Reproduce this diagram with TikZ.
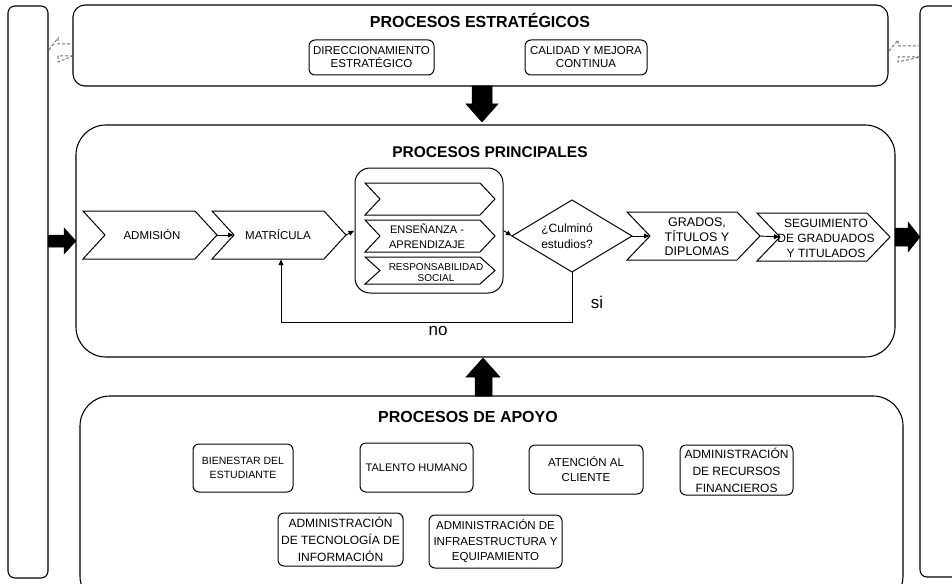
\documentclass[tikz,border=0pt]{standalone}
\usepackage{fontspec}
\setmainfont{Liberation Sans}
\usetikzlibrary{arrows.meta}
\newcommand\fsz[2]{\fontsize{#1}{#2}\selectfont}
\newcommand\chevron[6]{%
  \draw[chev] (#2,#4) -- ({#3-#6},#4) -- (#3,{(#4+#5)/2}) -- ({#3-#6},#5) -- (#2,#5) -- ({#2+#6},{(#4+#5)/2}) -- cycle;
  \coordinate (#1-tip) at (#3,{(#4+#5)/2});
  \coordinate (#1-notch) at ({#2+#6},{(#4+#5)/2});
}
\tikzset{
  bigbox/.style={draw, line width=1.1pt, inner sep=0pt},
  sbox/.style={draw, line width=1pt, rounded corners=6pt, align=center, inner sep=0pt},
  lbl/.style={align=center, inner sep=0pt},
  ttl/.style={font=\bfseries\fsz{16}{18}, inner sep=0pt},
  arr/.style={-{Latex[length=6pt,width=5.5pt]}, line width=0.9pt},
  blk/.style={fill=black, draw=black, line width=0.5pt, line join=miter},
  ghost/.style={draw=black!55, dash pattern=on 3pt off 2pt, line width=1pt},
  chev/.style={draw, line width=1pt, line join=miter},
}
\begin{document}
\begin{tikzpicture}[x=1pt,y=-1pt]
\useasboundingbox (0,0) rectangle (952,583);
\clip (0,0) rectangle (952,583);
\fill[white] (0,0) rectangle (952,583);

% side bars
\node[bigbox, rounded corners=7pt, minimum width=40pt, minimum height=572pt] (lbar) at (28,292) {};
\node[bigbox, rounded corners=7pt, minimum width=40pt, minimum height=571pt] (rbar) at (940,291.5) {};

% main boxes
\node[bigbox, rounded corners=12pt, minimum width=815pt, minimum height=81pt] (topb) at (480.5,45.5) {};
\node[bigbox, rounded corners=30pt, minimum width=819pt, minimum height=232pt] (midb) at (485.5,241) {};
\node[bigbox, rounded corners=30pt, minimum width=823pt, minimum height=210pt] (botb) at (491.5,501) {};

% ghost arrows
\draw[ghost] (49,50) -- (58,38) -- (58,44) -- (73,44) (73,56) -- (58,56) -- (58,62) -- cycle;
\draw[ghost] (889,51) -- (898,40) -- (898,46) -- (920,46) (920,57) -- (898,57) -- (898,62) -- cycle;

% titles
\node[ttl] (t1) at (480,20) {PROCESOS ESTRATÉGICOS};
\node[ttl, font=\bfseries\fsz{15.5}{17}] (t2) at (490,152) {PROCESOS PRINCIPALES};
\node[ttl] (t3) at (468,417) {PROCESOS DE APOYO};

% strategic boxes
\node[sbox, minimum width=125pt, minimum height=35pt, font=\fsz{11.5}{13}] (dir) at (371.5,57.5) {DIRECCIONAMIENTO\\ESTRATÉGICO};
\node[sbox, minimum width=122pt, minimum height=35pt, font=\fsz{11.5}{13}] (cal) at (586,57.5) {CALIDAD Y MEJORA\\CONTINUA};

% block arrows between boxes
\draw[blk] (472,86) -- (492,86) -- (492,104) -- (498,104) -- (482,122) -- (466,104) -- (472,104) -- cycle;
\draw[blk] (475,396) -- (492,396) -- (492,377) -- (500,377) -- (483,358) -- (466,377) -- (475,377) -- cycle;
\draw[blk] (48,235) -- (64,235) -- (64,228) -- (76,241) -- (64,254) -- (64,247) -- (48,247) -- cycle;
\draw[blk] (895,228) -- (908,228) -- (908,222) -- (920,237) -- (908,252) -- (908,246) -- (895,246) -- cycle;

% main chevrons
\chevron{adm}{83}{217}{211}{259}{22}
\node[lbl, font=\fsz{11.5}{14}] (admt) at (152,235) {ADMISIÓN};
\chevron{mat}{212}{346}{211}{259}{22}
\node[lbl, font=\fsz{11.5}{14}] (matt) at (278,235) {MATRÍCULA};
\coordinate (mat-bot) at (281,259);

% inner box with chevrons
\node[draw, line width=1pt, rounded corners=15pt, minimum width=148pt, minimum height=125pt, inner sep=0pt] (inb) at (429,230.5) {};
\chevron{c1}{365}{495}{183}{215}{15}
\chevron{c2}{365}{495}{220}{252}{15}
\node[lbl, font=\fsz{11}{14.5}] (c2t) at (427,236) {ENSEÑANZA -\\APRENDIZAJE};
\chevron{c3}{365}{495}{257}{284}{15}
\node[lbl, font=\fsz{10}{11.5}] (c3t) at (436,272.5) {RESPONSABILIDAD\\SOCIAL};

% decision
\coordinate (dia-w) at (512,236);
\coordinate (dia-n) at (572,200);
\coordinate (dia-e) at (632,236);
\coordinate (dia-s) at (572,272);
\draw[line width=1pt] (dia-w) -- (dia-n) -- (dia-e) -- (dia-s) -- cycle;
\node[lbl, font=\fsz{12}{16}] (dia) at (567,236) {¿Culminó\\estudios?};

\chevron{gra}{627}{760}{212}{260}{23}
\node[lbl, font=\fsz{12.5}{14.5}] (grat) at (697,237) {GRADOS,\\TÍTULOS Y\\DIPLOMAS};
\chevron{seg}{757}{890}{213}{261}{23}
\node[lbl, font=\fsz{12}{15}] (segt) at (826,238) {SEGUIMIENTO\\DE GRADUADOS\\Y TITULADOS};

% connectors
\draw[arr] (adm-tip) -- (mat-notch);
\draw[arr] (mat-tip) -- (inb.west);
\draw[arr] (inb.east) -- (dia-w);
\draw[arr] (dia-e) -- (gra-notch);
\draw[arr] (gra-tip) -- (seg-notch);
\draw[arr] (dia-s) -- ++(0,50) -| (mat-bot);
\node[lbl, font=\fsz{17}{19}] (si) at (597,302) {si};
\node[lbl, font=\fsz{17}{19}] (no) at (438,331) {no};

% support boxes
\node[sbox, minimum width=100pt, minimum height=48pt, font=\fsz{10.5}{13.5}] (b1) at (243,468) {BIENESTAR DEL\\ESTUDIANTE};
\node[sbox, minimum width=113pt, minimum height=49pt, font=\fsz{11}{13}] (b2) at (416.5,467.5) {TALENTO HUMANO};
\node[sbox, minimum width=114pt, minimum height=49pt, font=\fsz{11.5}{15}] (b3) at (586,469.5) {ATENCIÓN AL\\CLIENTE};
\node[sbox, minimum width=113pt, minimum height=50pt, font=\fsz{12}{17}] (b4) at (736.5,470) {ADMINISTRACIÓN\\DE RECURSOS\\FINANCIEROS};
\node[sbox, minimum width=125pt, minimum height=53pt, font=\fsz{12}{17}] (b5) at (340.5,539.5) {ADMINISTRACIÓN\\DE TECNOLOGÍA DE\\INFORMACIÓN};
\node[sbox, minimum width=133pt, minimum height=53pt, font=\fsz{11.5}{15.5}] (b6) at (495.5,541.5) {ADMINISTRACIÓN DE\\INFRAESTRUCTURA Y\\EQUIPAMIENTO};
\end{tikzpicture}
\end{document}
